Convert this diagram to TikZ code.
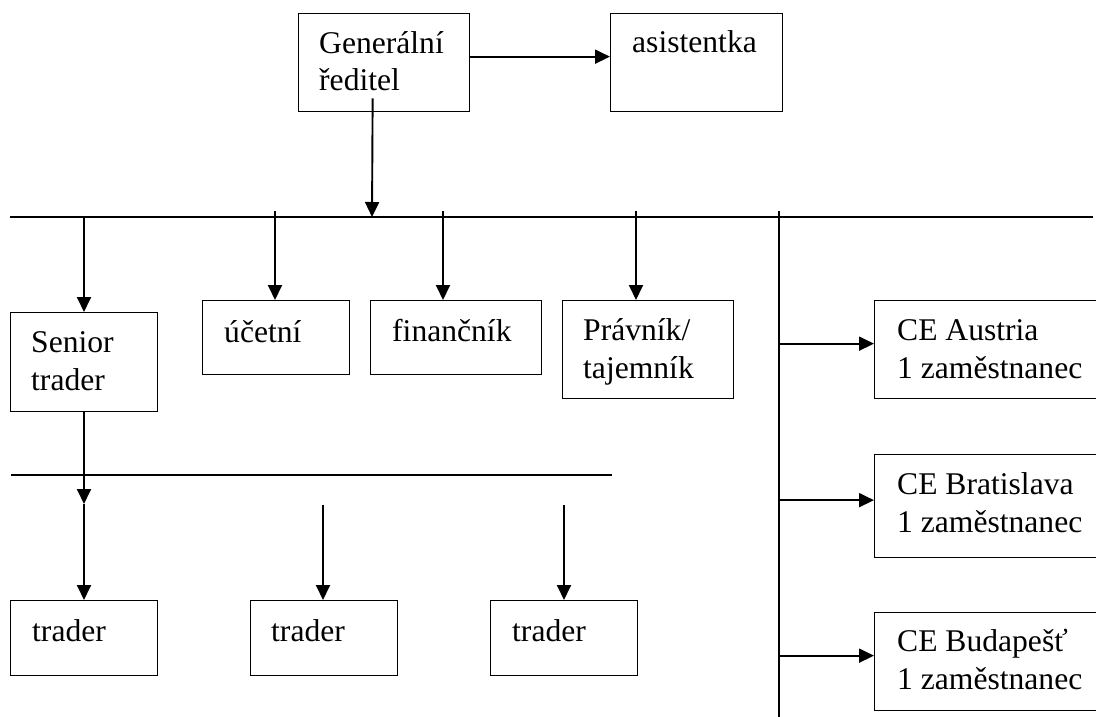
\documentclass[tikz,border=0pt]{standalone}
\usepackage{fontspec}
\setmainfont{Liberation Serif}
\usetikzlibrary{arrows.meta}
\begin{document}
\begin{tikzpicture}[x=1pt,y=-1pt,
  box/.style={draw, line width=1.3pt, rectangle, inner sep=0pt, anchor=north west},
  txt/.style={inner sep=0pt, anchor=base west, align=left, font=\fontsize{31.6}{37.5}\selectfont},
  conn/.style={line width=1.9pt},
  arr/.style={conn, -{Triangle[length=15pt,width=14pt]}}]
\clip (0,0) rectangle (1096,717);
% boxes
\node[box, minimum width=171pt, minimum height=98pt] (gr) at (298,13) {};
\node[box, minimum width=172pt, minimum height=98pt] (as) at (610,13) {};
\node[box, minimum width=147pt, minimum height=99pt] (st) at (10,312) {};
\node[box, minimum width=147pt, minimum height=74pt] (uc) at (202,300) {};
\node[box, minimum width=171pt, minimum height=74pt] (fi) at (370,300) {};
\node[box, minimum width=171pt, minimum height=98pt] (pr) at (562,300) {};
\node[box, minimum width=240pt, minimum height=98pt] (ce1) at (874,300) {};
\node[box, minimum width=240pt, minimum height=103pt] (ce2) at (874,454) {};
\node[box, minimum width=240pt, minimum height=98pt] (ce3) at (874,612) {};
\node[box, minimum width=147pt, minimum height=75pt] (t1) at (10,600) {};
\node[box, minimum width=147pt, minimum height=75pt] (t2) at (250,600) {};
\node[box, minimum width=147pt, minimum height=75pt] (t3) at (490,600) {};
% texts (base = baseline of last line)
\node[txt] (grt) at (319,91) {Generální\\ředitel};
\node[txt] (ast) at (632,53) {asistentka};
\node[txt] (stt) at (31,390) {Senior\\trader};
\node[txt] (uct) at (224,342) {účetní};
\node[txt] (fit) at (392,341) {finančník};
\node[txt] (prt) at (583,378) {Právník/\\tajemník};
\node[txt] (ce1t) at (897,378) {CE Austria\\1 zaměstnanec};
\node[txt] (ce2t) at (897,532) {CE Bratislava\\1 zaměstnanec};
\node[txt] (ce3t) at (897,689) {CE Budapešť\\1 zaměstnanec};
\node[txt] (t1t) at (32,641) {trader};
\node[txt] (t2t) at (271,641) {trader};
\node[txt] (t3t) at (512,641) {trader};
% coordinates
\coordinate (b0) at (372,217);
\coordinate (busL) at (10,217);
\coordinate (busR) at (1093,217);
\coordinate (sj) at (84,217);
\coordinate (uj) at (275,211);
\coordinate (fj) at (443,211);
\coordinate (pj) at (636,211);
\coordinate (vt) at (779,211);
\coordinate (vb) at (779,717);
\coordinate (sm) at (84,504);
\coordinate (b2L) at (11,475);
\coordinate (b2R) at (612,475);
\coordinate (t2s) at (323,505);
\coordinate (t3s) at (564,505);
\coordinate (a1) at ([yshift=6pt]ce1.west);
\coordinate (a2) at ([yshift=6pt]ce2.west);
\coordinate (a3) at ([yshift=6pt]ce3.west);
% connectors
\draw[arr] ([yshift=6pt]gr.east) -- ([yshift=6pt]as.west);
\draw[arr] ([xshift=-11.5pt,yshift=14pt]gr.south) -- (b0);
\draw[conn] (busL) -- (busR);
\draw[arr] (sj) -- (sj |- st.north);
\draw[arr] (uj) -- (uj |- uc.north);
\draw[arr] (fj) -- (fj |- fi.north);
\draw[arr] (pj) -- (pj |- pr.north);
\draw[conn] (vt) -- (vb);
\draw[arr] (vt |- a1) -- (a1);
\draw[arr] (vt |- a2) -- (a2);
\draw[arr] (vt |- a3) -- (a3);
\draw[arr] (sm |- st.south) -- (sm);
\draw[arr] (sm) -- (sm |- t1.north);
\draw[conn] (b2L) -- (b2R);
\draw[arr] (t2s) -- (t2s |- t2.north);
\draw[arr] (t3s) -- (t3s |- t3.north);
\end{tikzpicture}
\end{document}
